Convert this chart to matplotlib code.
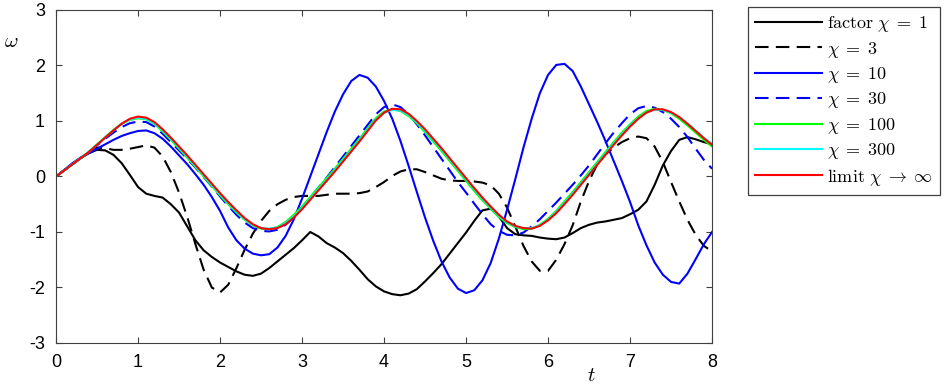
import numpy as np
import matplotlib
matplotlib.use('Agg')
import matplotlib.pyplot as plt

plt.rcParams['font.family'] = ['Liberation Sans', 'DejaVu Sans']
plt.rcParams['mathtext.fontset'] = 'cm'
plt.rcParams['axes.unicode_minus'] = False

# time grid of the read-off samples
t = np.linspace(0, 8, 81)

# omega(t) for each chi, every 0.1
w_chi1 = [0.00, 0.11, 0.22, 0.33, 0.42, 0.48, 0.47, 0.39, 0.24, 0.03,
          -0.19, -0.31, -0.35, -0.38, -0.50, -0.65, -0.90, -1.15, -1.33, -1.45,
          -1.55, -1.63, -1.71, -1.77, -1.79, -1.75, -1.65, -1.53, -1.41, -1.29,
          -1.15, -1.00, -1.08, -1.20, -1.28, -1.38, -1.52, -1.68, -1.85, -1.98,
          -2.07, -2.12, -2.14, -2.11, -2.03, -1.89, -1.74, -1.58, -1.39, -1.20,
          -1.01, -0.80, -0.61, -0.58, -0.72, -0.93, -1.04, -1.06, -1.07, -1.10,
          -1.12, -1.13, -1.10, -1.02, -0.93, -0.87, -0.83, -0.81, -0.78, -0.75,
          -0.68, -0.60, -0.45, -0.15, 0.20, 0.46, 0.66, 0.71, 0.67, 0.62, 0.58]

w_chi3 = [0.00, 0.11, 0.22, 0.33, 0.44, 0.52, 0.51, 0.48, 0.48, 0.50,
          0.53, 0.56, 0.52, 0.36, 0.08, -0.29, -0.73, -1.22, -1.68, -2.00,
          -2.09, -1.95, -1.65, -1.32, -1.03, -0.80, -0.62, -0.50, -0.42, -0.37,
          -0.35, -0.35, -0.35, -0.33, -0.31, -0.31, -0.31, -0.30, -0.27, -0.19,
          -0.10, 0.01, 0.09, 0.13, 0.13, 0.08, 0.02, -0.04, -0.07, -0.08,
          -0.08, -0.09, -0.11, -0.16, -0.31, -0.56, -0.90, -1.25, -1.53, -1.70,
          -1.70, -1.50, -1.22, -0.88, -0.45, -0.08, 0.22, 0.40, 0.52, 0.62,
          0.69, 0.72, 0.69, 0.54, 0.26, -0.10, -0.45, -0.78, -1.05, -1.25, -1.35]

w_chi10 = [0.00, 0.12, 0.24, 0.34, 0.42, 0.50, 0.58, 0.66, 0.73, 0.78,
           0.82, 0.83, 0.78, 0.68, 0.54, 0.38, 0.22, 0.04, -0.15, -0.37,
           -0.62, -0.92, -1.15, -1.30, -1.39, -1.42, -1.40, -1.28, -1.07, -0.77,
           -0.40, 0.00, 0.40, 0.80, 1.17, 1.48, 1.72, 1.83, 1.78, 1.62,
           1.36, 1.04, 0.64, 0.19, -0.28, -0.74, -1.16, -1.53, -1.82, -2.02,
           -2.10, -2.05, -1.87, -1.56, -1.12, -0.60, -0.05, 0.52, 1.04, 1.50,
           1.83, 2.01, 2.03, 1.90, 1.62, 1.30, 0.98, 0.64, 0.28, -0.08,
           -0.46, -0.88, -1.24, -1.55, -1.77, -1.90, -1.93, -1.75, -1.49, -1.22, -1.00]

w_chi30 = [0.00, 0.11, 0.22, 0.33, 0.44, 0.56, 0.68, 0.79, 0.89, 0.96,
           0.99, 0.98, 0.90, 0.77, 0.62, 0.47, 0.32, 0.16, -0.01, -0.18,
           -0.36, -0.53, -0.69, -0.83, -0.93, -0.98, -0.99, -0.96, -0.87, -0.73,
           -0.56, -0.38, -0.20, -0.02, 0.17, 0.36, 0.55, 0.74, 0.93, 1.12,
           1.25, 1.30, 1.25, 1.12, 0.94, 0.74, 0.53, 0.32, 0.11, -0.10,
           -0.29, -0.49, -0.68, -0.86, -0.98, -1.05, -1.06, -1.01, -0.90, -0.77,
           -0.62, -0.47, -0.31, -0.15, 0.02, 0.20, 0.40, 0.60, 0.79, 0.96,
           1.12, 1.23, 1.27, 1.24, 1.16, 1.04, 0.89, 0.71, 0.50, 0.30, 0.14]

w_chi100 = [0.00, 0.11, 0.22, 0.33, 0.45, 0.58, 0.71, 0.84, 0.95, 1.02,
            1.05, 1.03, 0.95, 0.81, 0.66, 0.50, 0.34, 0.17, 0.00, -0.17,
            -0.34, -0.50, -0.65, -0.78, -0.88, -0.94, -0.95, -0.91, -0.82, -0.69,
            -0.54, -0.37, -0.20, -0.03, 0.14, 0.32, 0.50, 0.68, 0.87, 1.05,
            1.17, 1.21, 1.18, 1.09, 0.96, 0.80, 0.63, 0.46, 0.28, 0.10,
            -0.08, -0.26, -0.43, -0.58, -0.73, -0.84, -0.91, -0.95, -0.94, -0.87,
            -0.76, -0.62, -0.45, -0.28, -0.10, 0.08, 0.26, 0.44, 0.62, 0.79,
            0.94, 1.08, 1.18, 1.22, 1.20, 1.14, 1.04, 0.92, 0.79, 0.66, 0.54]

w_chi300 = [0.00, 0.11, 0.22, 0.33, 0.44, 0.57, 0.70, 0.83, 0.95, 1.03,
            1.06, 1.04, 0.96, 0.83, 0.68, 0.52, 0.36, 0.19, 0.02, -0.15,
            -0.32, -0.48, -0.63, -0.77, -0.87, -0.93, -0.94, -0.92, -0.84, -0.72,
            -0.57, -0.40, -0.23, -0.06, 0.11, 0.29, 0.47, 0.65, 0.84, 1.02,
            1.15, 1.20, 1.19, 1.11, 0.98, 0.83, 0.66, 0.49, 0.31, 0.13,
            -0.05, -0.23, -0.40, -0.56, -0.71, -0.82, -0.90, -0.93, -0.93, -0.88,
            -0.78, -0.64, -0.48, -0.31, -0.13, 0.05, 0.23, 0.41, 0.59, 0.76,
            0.92, 1.05, 1.15, 1.20, 1.20, 1.15, 1.07, 0.96, 0.83, 0.70, 0.59]

w_limit = [0.00, 0.11, 0.22, 0.33, 0.44, 0.57, 0.70, 0.83, 0.95, 1.04,
           1.08, 1.06, 0.98, 0.85, 0.70, 0.54, 0.38, 0.21, 0.04, -0.13,
           -0.30, -0.46, -0.61, -0.75, -0.86, -0.93, -0.95, -0.93, -0.86, -0.74,
           -0.59, -0.42, -0.25, -0.08, 0.09, 0.27, 0.45, 0.63, 0.82, 1.01,
           1.15, 1.22, 1.21, 1.13, 1.00, 0.85, 0.68, 0.51, 0.33, 0.15,
           -0.03, -0.21, -0.38, -0.54, -0.69, -0.81, -0.89, -0.93, -0.94, -0.89,
           -0.79, -0.66, -0.50, -0.33, -0.15, 0.03, 0.21, 0.39, 0.57, 0.74,
           0.90, 1.04, 1.15, 1.21, 1.21, 1.16, 1.07, 0.95, 0.82, 0.69, 0.57]

labels = [r'$\mathrm{factor}\ \chi\;=\;1$', r'$\chi\;=\;3$', r'$\chi\;=\;10$',
          r'$\chi\;=\;30$', r'$\chi\;=\;100$', r'$\chi\;=\;300$',
          r'$\mathrm{limit}\ \chi\;\rightarrow\;\infty$']
xticks = [0, 1, 2, 3, 4, 5, 6, 7, 8]
yticks = [-3, -2, -1, 0, 1, 2, 3]

series = [w_chi1, w_chi3, w_chi10, w_chi30, w_chi100, w_chi300, w_limit]
colors = ['k', 'k', '#0000ff', '#0000ff', '#00ff00', '#00ffff', '#ff0000']
dashed = [False, True, False, True, False, False, False]

fig = plt.figure(figsize=(9.45, 3.87), dpi=100)
ax = fig.add_axes([0.0593, 0.1137, 0.6942, 0.8605])

for w, c, d, lab in zip(series, colors, dashed, labels):
    ls = (0, (6.5, 3.5)) if d else '-'
    ax.plot(t, w, color=c, lw=1.5, ls=ls, label=lab)

ax.set_xlim(0, 8)
ax.set_ylim(-3, 3)
ax.set_xticks(xticks)
ax.set_yticks(yticks)
ax.set_xticklabels([str(v) for v in xticks])
ax.set_yticklabels([str(v) for v in yticks])
ax.tick_params(direction='in', length=4, width=0.8, color='#404040',
               labelsize=13, top=True, right=True, pad=8)
for s in ax.spines.values():
    s.set_color('#404040')
    s.set_linewidth(0.8)

ax.text(-0.069, 0.905, r'$\omega$', transform=ax.transAxes, fontsize=15,
        ha='center', va='center')
ax.text(0.8155, -0.099, r'$t$', transform=ax.transAxes, fontsize=15,
        ha='center', va='center')

leg = ax.legend(loc='upper left', bbox_to_anchor=(0.7915, 0.982),
                bbox_transform=fig.transFigure, borderaxespad=0,
                fontsize=13, handlelength=3.7, handletextpad=0.3,
                labelspacing=0.3, borderpad=0.4, fancybox=False,
                framealpha=1, edgecolor='#404040')
leg.get_frame().set_linewidth(0.9)

fig.savefig('out.png', dpi=100)
